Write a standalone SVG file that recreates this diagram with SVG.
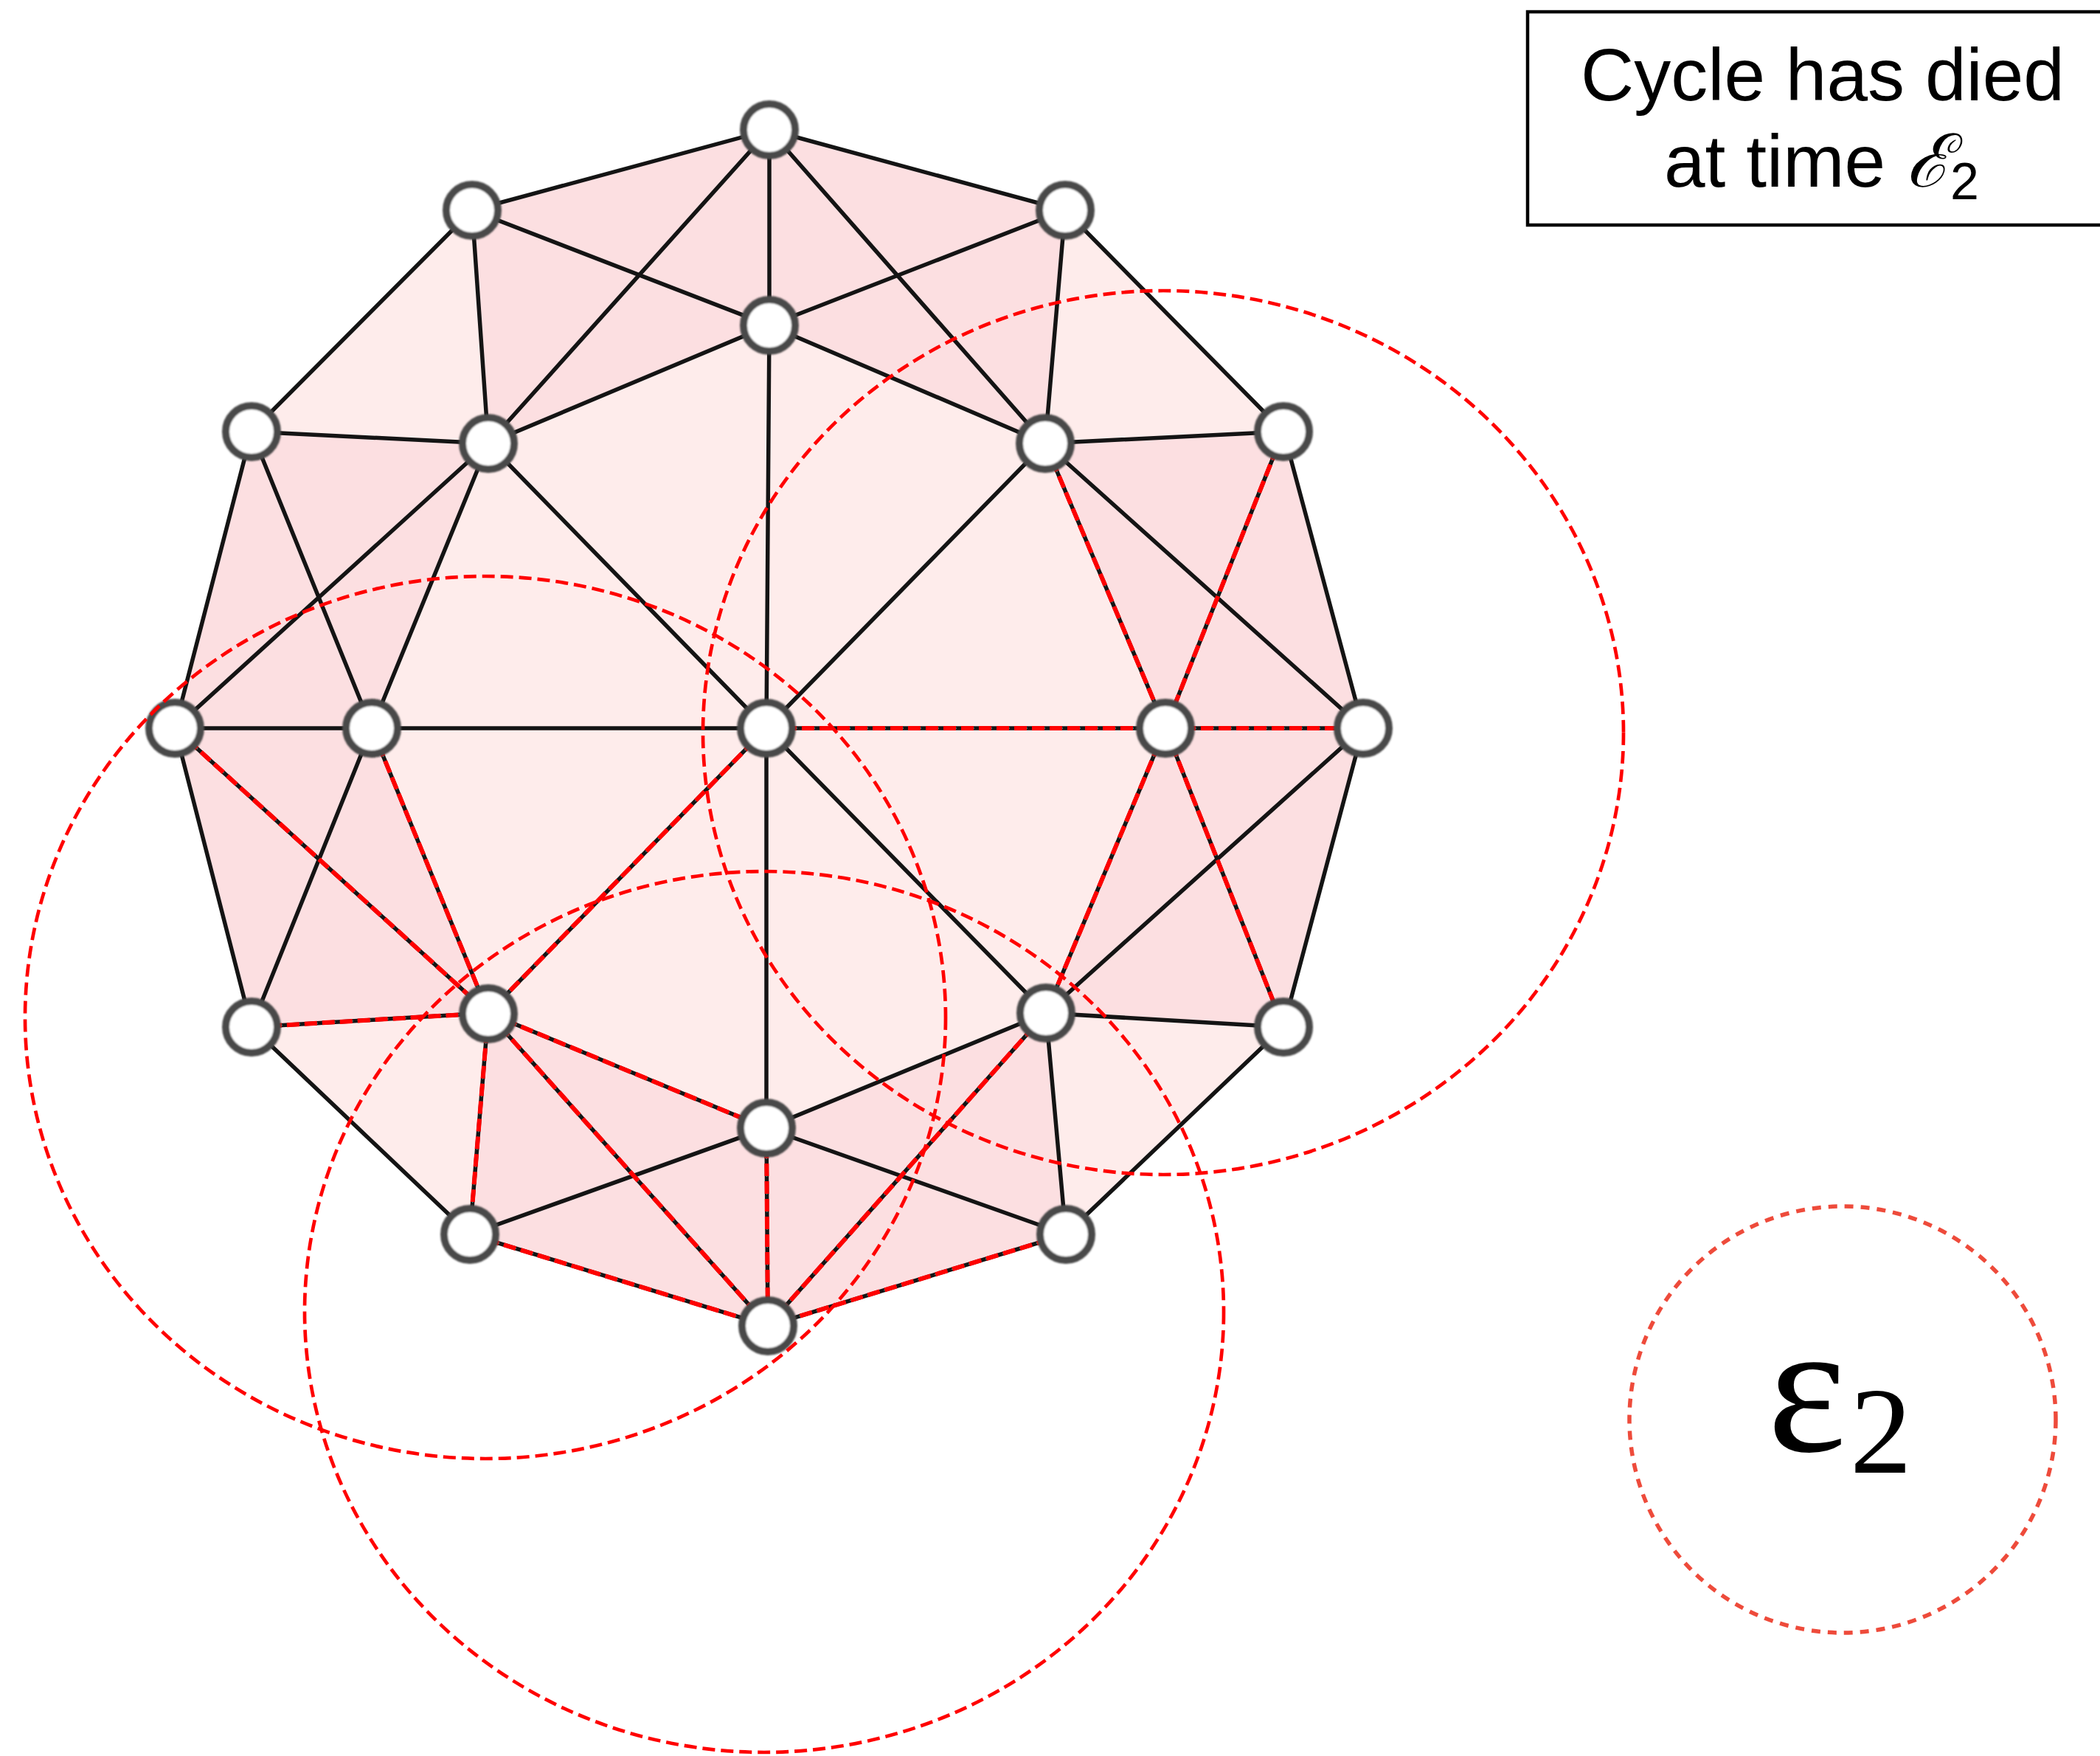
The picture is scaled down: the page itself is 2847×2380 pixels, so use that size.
<svg xmlns="http://www.w3.org/2000/svg" width="2847" height="2380" viewBox="0 0 2847 2380">
<style>
.light{fill:#feeceb;stroke:none}
.dark{fill:#fcdfe1;stroke:none}
.edge{stroke:#141414;stroke-width:5.5;stroke-linecap:round;fill:none}
.teal{stroke:#3a9a90;stroke-width:1.5;stroke-dasharray:6 6;fill:none}
.red{stroke:#ff0000;stroke-width:6;stroke-dasharray:17 7;fill:none}
.node{fill:#ffffff;stroke:#4a4a4a;stroke-width:10}
.ball{fill:none;stroke:#ff0000;stroke-width:4.7;stroke-dasharray:17 8}
.legend{fill:none;stroke:#ee4b3b;stroke-width:5.5;stroke-dasharray:12 10}
.lbl{font-family:"Liberation Sans",Arial,sans-serif;font-size:100px;fill:#000}
</style>
<defs>
<filter id="soft" x="-20%" y="-20%" width="140%" height="140%"><feGaussianBlur stdDeviation="1.3"/></filter>
</defs>
<rect x="0" y="0" width="2847" height="2380" fill="#ffffff"/>
<g id="faces">
<polygon class="light" points="1043,176 1444,285 1740,585 1848,987 1740,1392 1445,1673 1041,1797 637,1673 341,1392 237,987 341,585 640,285"/>
<polygon class="dark" points="640,285 1043,176 1043,441 662,601"/>
<polygon class="dark" points="1043,176 1444,285 1417,601 1043,441"/>
<polygon class="dark" points="341,585 662,601 504,987 237,987"/>
<polygon class="dark" points="237,987 504,987 662,1373 341,1392"/>
<polygon class="dark" points="662,1373 1039,1529 1041,1797 637,1673"/>
<polygon class="dark" points="1039,1529 1418,1373 1445,1673 1041,1797"/>
<polygon class="dark" points="1580,987 1848,987 1740,1392 1418,1373"/>
<polygon class="dark" points="1417,601 1740,585 1848,987 1580,987"/>
</g>
<g id="connectors">
<g class="edge">
<line x1="1043" y1="176" x2="1444" y2="285"/>
<line x1="1444" y1="285" x2="1740" y2="585"/>
<line x1="1740" y1="585" x2="1848" y2="987"/>
<line x1="1848" y1="987" x2="1740" y2="1392"/>
<line x1="1740" y1="1392" x2="1445" y2="1673"/>
<line x1="1445" y1="1673" x2="1041" y2="1797"/>
<line x1="1041" y1="1797" x2="637" y2="1673"/>
<line x1="637" y1="1673" x2="341" y2="1392"/>
<line x1="341" y1="1392" x2="237" y2="987"/>
<line x1="237" y1="987" x2="341" y2="585"/>
<line x1="341" y1="585" x2="640" y2="285"/>
<line x1="640" y1="285" x2="1043" y2="176"/>
<line x1="1043" y1="176" x2="1043" y2="441"/>
<line x1="1043" y1="176" x2="662" y2="601"/>
<line x1="1043" y1="176" x2="1417" y2="601"/>
<line x1="640" y1="285" x2="1043" y2="441"/>
<line x1="640" y1="285" x2="662" y2="601"/>
<line x1="1444" y1="285" x2="1043" y2="441"/>
<line x1="1444" y1="285" x2="1417" y2="601"/>
<line x1="1043" y1="441" x2="662" y2="601"/>
<line x1="1043" y1="441" x2="1417" y2="601"/>
<line x1="1043" y1="441" x2="1039" y2="987"/>
<line x1="662" y1="601" x2="341" y2="585"/>
<line x1="662" y1="601" x2="1039" y2="987"/>
<line x1="662" y1="601" x2="237" y2="987"/>
<line x1="662" y1="601" x2="504" y2="987"/>
<line x1="341" y1="585" x2="504" y2="987"/>
<line x1="237" y1="987" x2="504" y2="987"/>
<line x1="237" y1="987" x2="662" y2="1373"/>
<line x1="504" y1="987" x2="1039" y2="987"/>
<line x1="504" y1="987" x2="341" y2="1392"/>
<line x1="504" y1="987" x2="662" y2="1373"/>
<line x1="341" y1="1392" x2="662" y2="1373"/>
<line x1="1039" y1="987" x2="1580" y2="987"/>
<line x1="1039" y1="987" x2="1417" y2="601"/>
<line x1="1039" y1="987" x2="662" y2="1373"/>
<line x1="1039" y1="987" x2="1039" y2="1529"/>
<line x1="1039" y1="987" x2="1418" y2="1373"/>
<line x1="1417" y1="601" x2="1740" y2="585"/>
<line x1="1417" y1="601" x2="1580" y2="987"/>
<line x1="1417" y1="601" x2="1848" y2="987"/>
<line x1="1740" y1="585" x2="1580" y2="987"/>
<line x1="1580" y1="987" x2="1848" y2="987"/>
<line x1="1580" y1="987" x2="1418" y2="1373"/>
<line x1="1580" y1="987" x2="1740" y2="1392"/>
<line x1="1848" y1="987" x2="1418" y2="1373"/>
<line x1="1418" y1="1373" x2="1740" y2="1392"/>
<line x1="1418" y1="1373" x2="1445" y2="1673"/>
<line x1="1418" y1="1373" x2="1039" y2="1529"/>
<line x1="1418" y1="1373" x2="1041" y2="1797"/>
<line x1="1445" y1="1673" x2="1039" y2="1529"/>
<line x1="1039" y1="1529" x2="662" y2="1373"/>
<line x1="1039" y1="1529" x2="637" y2="1673"/>
<line x1="1039" y1="1529" x2="1041" y2="1797"/>
<line x1="662" y1="1373" x2="637" y2="1673"/>
<line x1="662" y1="1373" x2="1041" y2="1797"/>
</g>
<g id="red-edges">
<path d="M237,987 L662,1373 M504,987 L662,1373 M341,1392 L662,1373 M1039,987 L662,1373 M662,1373 L1039,1529 M662,1373 L637,1673 M662,1373 L1041,1797 M637,1673 L1041,1797 M1039,1529 L1041,1797 M1418,1373 L1041,1797 M1445,1673 L1041,1797 M1039,987 L1580,987 M1580,987 L1848,987 M1417,601 L1580,987 M1740,585 L1580,987 M1580,987 L1418,1373 M1580,987 L1740,1392" class="teal"/>
<path d="M237,987 L662,1373 M504,987 L662,1373 M341,1392 L662,1373 M1039,987 L662,1373 M662,1373 L1039,1529 M662,1373 L637,1673 M662,1373 L1041,1797 M637,1673 L1041,1797 M1039,1529 L1041,1797 M1418,1373 L1041,1797 M1445,1673 L1041,1797 M1039,987 L1580,987 M1580,987 L1848,987 M1417,601 L1580,987 M1740,585 L1580,987 M1580,987 L1418,1373 M1580,987 L1740,1392" class="red"/>
</g>
</g>
<g id="nodes" filter="url(#soft)">
<g id="n-T"><circle class="node" cx="1043" cy="176" r="35"/></g>
<g id="n-UL"><circle class="node" cx="640" cy="285" r="35"/></g>
<g id="n-UR"><circle class="node" cx="1444" cy="285" r="35"/></g>
<g id="n-IT"><circle class="node" cx="1043" cy="441" r="35"/></g>
<g id="n-FL"><circle class="node" cx="341" cy="585" r="35"/></g>
<g id="n-ML"><circle class="node" cx="662" cy="601" r="35"/></g>
<g id="n-MR"><circle class="node" cx="1417" cy="601" r="35"/></g>
<g id="n-FR"><circle class="node" cx="1740" cy="585" r="35"/></g>
<g id="n-L"><circle class="node" cx="237" cy="987" r="35"/></g>
<g id="n-L2"><circle class="node" cx="504" cy="987" r="35"/></g>
<g id="n-C"><circle class="node" cx="1039" cy="987" r="35"/></g>
<g id="n-R2"><circle class="node" cx="1580" cy="987" r="35"/></g>
<g id="n-R"><circle class="node" cx="1848" cy="987" r="35"/></g>
<g id="n-BL"><circle class="node" cx="341" cy="1392" r="35"/></g>
<g id="n-MLb"><circle class="node" cx="662" cy="1374" r="35"/></g>
<g id="n-MRb"><circle class="node" cx="1418" cy="1373" r="35"/></g>
<g id="n-BR"><circle class="node" cx="1740" cy="1392" r="35"/></g>
<g id="n-IB"><circle class="node" cx="1039" cy="1529" r="35"/></g>
<g id="n-BL2"><circle class="node" cx="637" cy="1673" r="35"/></g>
<g id="n-BR2"><circle class="node" cx="1445" cy="1673" r="35"/></g>
<g id="n-B"><circle class="node" cx="1041" cy="1797" r="35"/></g>
</g>
<g id="balls">
<ellipse class="ball" cx="1577" cy="993" rx="624" ry="599"/>
<ellipse class="ball" cx="658" cy="1379" rx="624" ry="598"/>
<ellipse class="ball" cx="1036" cy="1778" rx="623" ry="597"/>
</g>
<g id="legend">
<circle class="legend" cx="2498" cy="1924" r="289"/>
<text font-family="'Liberation Serif','DejaVu Serif',serif" fill="#000"><tspan x="2396" y="1967" font-size="255">ε</tspan><tspan x="2508" y="1996" font-size="168">2</tspan></text>
</g>
<g id="caption">
<rect x="2071" y="16" width="800" height="289" fill="#ffffff" stroke="#000" stroke-width="4.5"/>
<text class="lbl" x="2471" y="136" text-anchor="middle">Cycle has died</text>
<text class="lbl" x="2256" y="253">at time <tspan font-family="'DejaVu Serif','Liberation Serif',serif" font-style="italic">ℰ</tspan><tspan font-size="70" dy="17">2</tspan></text>
</g>
</svg>
